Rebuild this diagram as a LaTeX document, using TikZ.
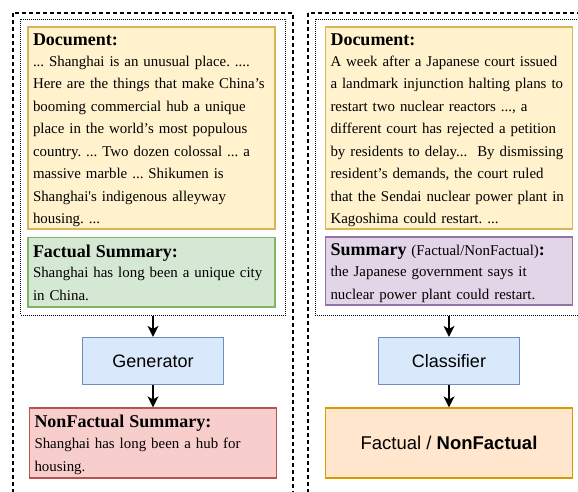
\documentclass[tikz,border=0pt]{standalone}
\usepackage{fontspec}
\setmainfont{Liberation Serif}
\setsansfont{Liberation Sans}
\usetikzlibrary{arrows.meta}
\definecolor{docfill}{HTML}{FFF2CC}
\definecolor{docdraw}{HTML}{D6B656}
\definecolor{factfill}{HTML}{D5E8D4}
\definecolor{factdraw}{HTML}{82B366}
\definecolor{nonfill}{HTML}{F8CECC}
\definecolor{nondraw}{HTML}{B85450}
\definecolor{sumfill}{HTML}{E1D5E7}
\definecolor{sumdraw}{HTML}{9673A6}
\definecolor{modfill}{HTML}{DAE8FC}
\definecolor{moddraw}{HTML}{6C8EBF}
\definecolor{outfill}{HTML}{FFE6CC}
\definecolor{outdraw}{HTML}{D79B00}
\newcommand{\boxhead}[1]{\rule{0pt}{17.5pt}{\bfseries\fontsize{18}{22.5}\selectfont #1}}
\newcommand{\boxend}{\rule[-4.5pt]{0pt}{0pt}}
\tikzset{>={Stealth[length=11pt,width=11pt,inset=3pt]}}

\begin{document}
\frenchspacing
\begin{tikzpicture}[x=1pt, y=-1pt,
    panel/.style={draw, line width=1.2pt, dash pattern=on 4pt off 3pt},
    group/.style={draw, line width=1pt, dash pattern=on 1pt off 1pt, minimum height=296pt},
    textbox/.style={draw, line width=1.2pt, text width=237pt, inner xsep=5pt, inner ysep=0pt,
        align=left, font=\fontsize{14.9}{22.5}\selectfont\frenchspacing},
    docbox/.style={textbox, fill=docfill, draw=docdraw, minimum height=202pt},
    factbox/.style={textbox, fill=factfill, draw=factdraw, minimum height=69.7pt},
    nonbox/.style={textbox, fill=nonfill, draw=nondraw, minimum height=70pt},
    sumbox/.style={textbox, fill=sumfill, draw=sumdraw, minimum height=68pt},
    model/.style={draw=moddraw, fill=modfill, line width=1.2pt, minimum width=141pt,
        minimum height=47pt, font=\sffamily\fontsize{18}{22}\selectfont},
    outbox/.style={draw=outdraw, fill=outfill, line width=1.2pt, minimum width=247pt,
        minimum height=70pt, font=\sffamily\fontsize{18.5}{22}\selectfont},
    flow/.style={->, line width=1.5pt}]
    \useasboundingbox (0,0) rectangle (578,491);
    \clip (0,0) rectangle (578,491);
    % outer panels
    \draw[panel] (13,13) rectangle (293,520);
    \draw[panel] (308,13) rectangle (620,520);
    % left: generation
    \node[docbox] (docA) at (151.5,128) {\boxhead{Document:}\\[-1.8pt]
        ... Shanghai is an unusual place. ....\\
        Here are the things that make China’s\\
        booming commercial hub a unique\\
        place in the world’s most populous\\
        country. ... Two dozen colossal ... a\\
        massive marble ... Shikumen is\\
        Shanghai\textquotesingle s indigenous alleyway\\
        housing. ...\boxend};
    \node[factbox] (factA) at (151.5,272.2) {\boxhead{Factual Summary:}\\[-1.8pt]
        Shanghai has long been a unique city\\
        in China.\boxend};
    \node[group, minimum width=265pt] (inA) at (153,167) {};
    \node[model] (gen) at (153,361) {Generator};
    \node[nonbox] (nonA) at (153,443) {\boxhead{NonFactual Summary:}\\[-1.8pt]
        Shanghai has long been a hub for\\
        housing.\boxend};
    \draw[flow] (inA.south) -- (gen.north);
    \draw[flow] (gen.south) -- (nonA.north);
    % right: classification
    \node[docbox] (docB) at (449,128) {\boxhead{Document:}\\[-1.8pt]
        A week after a Japanese court issued\\
        a landmark injunction halting plans to\\
        restart two nuclear reactors ..., a\\
        different court has rejected a petition\\
        by residents to delay... \ By dismissing\\
        resident’s demands, the court ruled\\
        that the Sendai nuclear power plant in\\
        Kagoshima could restart. ...\boxend};
    \node[sumbox] (sumB) at (449,271) {\boxhead{Summary} (Factual/NonFactual){\bfseries\fontsize{18}{22.5}\selectfont :}\\[-1.8pt]
        the Japanese government says it\\
        nuclear power plant could restart.\boxend};
    \node[group, minimum width=268pt] (inB) at (449,167) {};
    \node[model] (cls) at (449,361) {Classifier};
    \node[outbox] (outB) at (449,443) {Factual / \textbf{NonFactual}};
    \draw[flow] (inB.south) -- (cls.north);
    \draw[flow] (cls.south) -- (outB.north);
\end{tikzpicture}
\end{document}
